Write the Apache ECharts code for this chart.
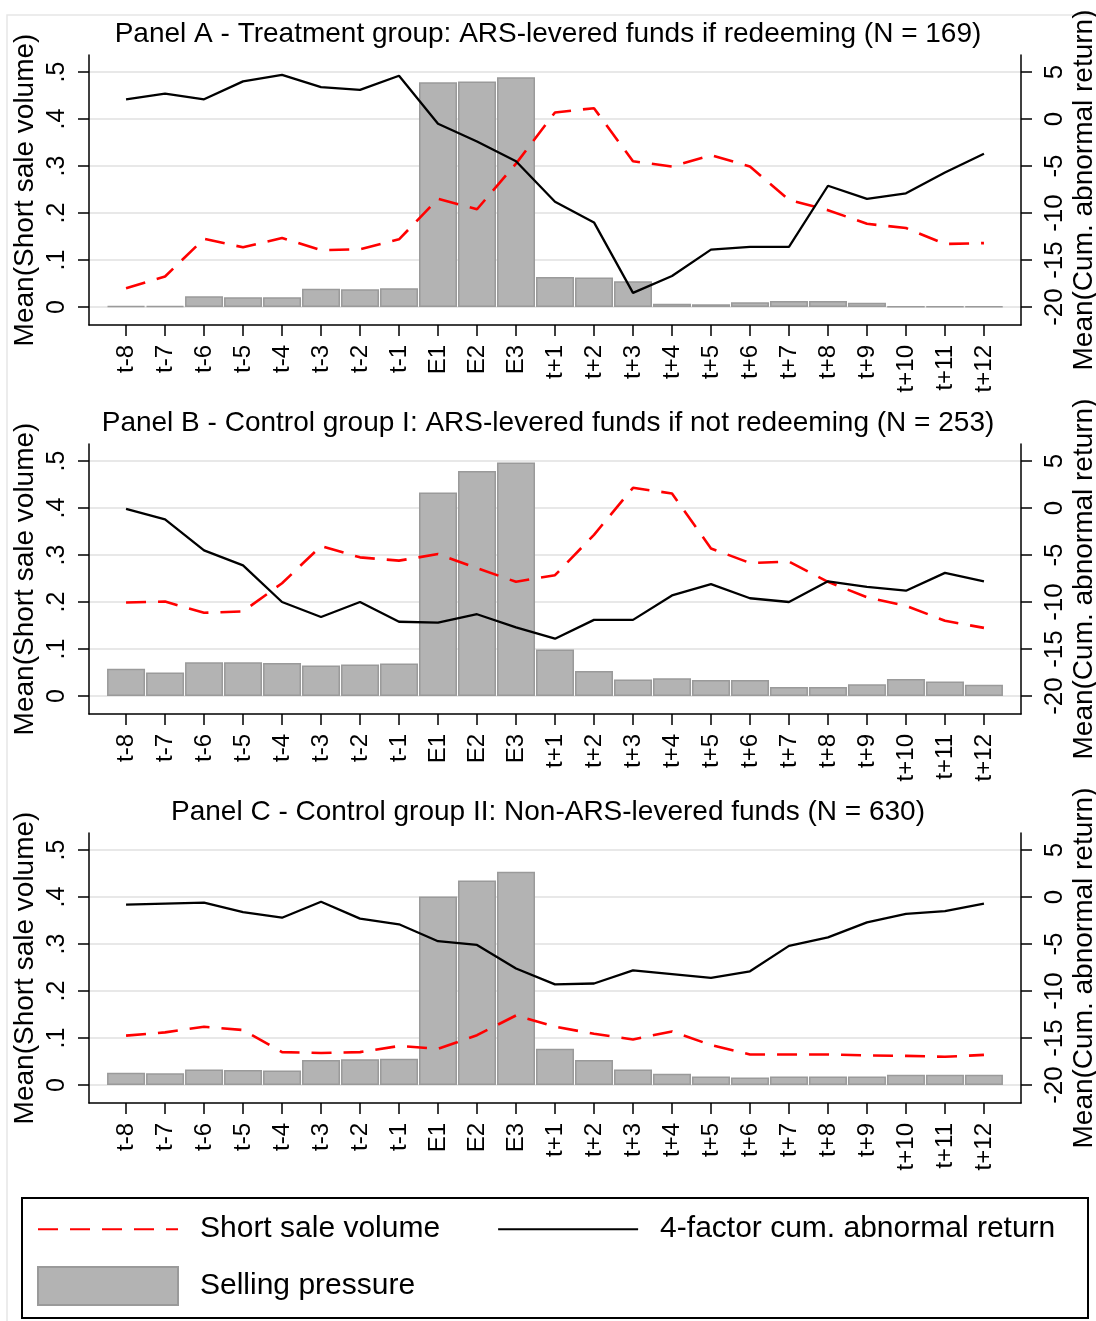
<!DOCTYPE html>
<html><head><meta charset="utf-8">
<script src="https://cdn.jsdelivr.net/npm/echarts@6/dist/echarts.min.js"></script>
<style>html,body{margin:0;padding:0;background:#fff}#c{width:1096px;height:1321px}</style>
</head><body><div id="c"></div>
<script>
const categories = ['t-8','t-7','t-6','t-5','t-4','t-3','t-2','t-1','E1','E2','E3','t+1','t+2','t+3','t+4','t+5','t+6','t+7','t+8','t+9','t+10','t+11','t+12'];
const leftTicks = [0, 0.1, 0.2, 0.3, 0.4, 0.5];
const rightTicks = [-20, -15, -10, -5, 0, 5];
const panelTitles = [
  'Panel A - Treatment group: ARS-levered funds if redeeming (N = 169)',
  'Panel B - Control group I: ARS-levered funds if not redeeming (N = 253)',
  'Panel C - Control group II: Non-ARS-levered funds (N = 630)'
];
const seriesNames = ['Short sale volume', '4-factor cum. abnormal return', 'Selling pressure'];

const sellA  = [0.002,0.002,0.023,0.021,0.021,0.039,0.038,0.040,0.478,0.480,0.489,0.064,0.063,0.055,0.007,0.006,0.010,0.013,0.013,0.009,0.001,0.001,0.001];
const shortA = [0.040,0.065,0.145,0.127,0.147,0.121,0.123,0.144,0.230,0.208,0.305,0.414,0.423,0.310,0.299,0.323,0.299,0.228,0.206,0.177,0.168,0.134,0.136];
const carA   = [2.1,2.7,2.1,4.0,4.7,3.4,3.1,4.6,-0.5,-2.4,-4.5,-8.8,-11.0,-18.5,-16.7,-13.9,-13.6,-13.6,-7.1,-8.5,-7.9,-5.7,-3.7];

const sellB  = [0.058,0.050,0.072,0.072,0.070,0.065,0.067,0.069,0.433,0.479,0.497,0.099,0.053,0.035,0.038,0.034,0.034,0.019,0.019,0.025,0.036,0.031,0.024];
const shortB = [0.199,0.201,0.177,0.180,0.240,0.319,0.295,0.288,0.302,0.272,0.243,0.257,0.343,0.443,0.431,0.314,0.283,0.286,0.243,0.210,0.192,0.160,0.145];
const carB   = [-0.1,-1.2,-4.5,-6.1,-10.0,-11.6,-10.0,-12.1,-12.2,-11.3,-12.7,-13.9,-11.9,-11.9,-9.3,-8.1,-9.6,-10.0,-7.8,-8.4,-8.8,-6.9,-7.8];

const sellC  = [0.026,0.025,0.033,0.032,0.031,0.053,0.055,0.056,0.401,0.435,0.454,0.077,0.053,0.033,0.024,0.018,0.016,0.018,0.018,0.018,0.022,0.022,0.022];
const shortC = [0.105,0.112,0.124,0.117,0.070,0.068,0.070,0.083,0.077,0.106,0.148,0.124,0.109,0.097,0.114,0.085,0.065,0.065,0.065,0.063,0.062,0.060,0.064];
const carC   = [-0.8,-0.7,-0.6,-1.6,-2.2,-0.5,-2.3,-2.9,-4.7,-5.1,-7.6,-9.3,-9.2,-7.8,-8.2,-8.6,-7.9,-5.2,-4.3,-2.7,-1.8,-1.5,-0.7];

const panels = [
  {sell: sellA, short: shortA, car: carA},
  {sell: sellB, short: shortB, car: carB},
  {sell: sellC, short: shortC, car: carC}
];

const FONT = '"Liberation Sans", Arial, Helvetica, sans-serif';
const gridTops = [55, 444, 833];
const GRID_H = 270;
const idx = categories.map((c, i) => i);
const LMIN = -0.0383, LMAX = 0.5362;
const RMIN = -20 + LMIN * 50, RMAX = -20 + LMAX * 50;

const grids = [], xAxes = [], yAxes = [], series = [], titles = [];
panels.forEach((p, k) => {
  grids.push({left: 89, right: 75, top: gridTops[k], height: GRID_H, containLabel: false, outerBoundsMode: 'none'});
  titles.push({
    text: panelTitles[k], left: 'center', top: gridTops[k] - 35, padding: [0, 0, 0, 6],
    textStyle: {fontSize: 28, fontWeight: 'normal', fontFamily: FONT, color: '#000'}
  });
  xAxes.push({
    type: 'value', gridIndex: k, min: -0.95, max: 22.95,
    axisLine: {show: true, onZero: false, lineStyle: {color: '#000', width: 1.5}},
    axisTick: {show: true, inside: false, length: 11, customValues: idx, lineStyle: {color: '#000', width: 1.5}},
    axisLabel: {show: true, customValues: idx, rotate: 90, margin: 20, fontSize: 24, fontFamily: FONT, color: '#000',
      formatter: v => categories[Math.round(v)]},
    splitLine: {show: false}
  });
  yAxes.push({
    type: 'value', gridIndex: k, position: 'left', min: LMIN, max: LMAX,
    name: 'Mean(Short sale volume)', nameLocation: 'middle', nameRotate: 90, nameGap: 50, nameMoveOverlap: false,
    nameTextStyle: {fontSize: 28, fontFamily: FONT, color: '#000'},
    axisLine: {show: true, onZero: false, lineStyle: {color: '#000', width: 1.5}},
    axisTick: {show: true, inside: false, length: 11, customValues: leftTicks, lineStyle: {color: '#000', width: 1.5}},
    axisLabel: {show: true, customValues: leftTicks, rotate: 90, margin: 19, fontSize: 25, fontFamily: FONT, color: '#000',
      formatter: v => v === 0 ? '0' : String(+v.toFixed(2)).replace(/^0\./, '.')},
    splitLine: {show: true, lineStyle: {color: '#e8e8e8', width: 2}}
  });
  yAxes.push({
    type: 'value', gridIndex: k, position: 'right', min: RMIN, max: RMAX,
    name: 'Mean(Cum. abnormal return)', nameLocation: 'middle', nameRotate: 90, nameGap: 49, nameMoveOverlap: false,
    nameTextStyle: {fontSize: 28, fontFamily: FONT, color: '#000'},
    axisLine: {show: true, onZero: false, lineStyle: {color: '#000', width: 1.5}},
    axisTick: {show: true, inside: false, length: 11, customValues: rightTicks, lineStyle: {color: '#000', width: 1.5}},
    axisLabel: {show: true, customValues: rightTicks, rotate: 90, margin: 21, fontSize: 26, fontFamily: FONT, color: '#000',
      formatter: v => String(Math.round(v))},
    splitLine: {show: false}
  });
  series.push({
    name: seriesNames[2], type: 'bar', xAxisIndex: k, yAxisIndex: 2 * k, barWidth: 38,
    itemStyle: {color: '#b3b3b3', borderColor: '#9a9a9a', borderWidth: 1.5},
    data: p.sell.map((v, i) => [i, v]), z: 2
  });
  series.push({
    name: seriesNames[0], type: 'line', xAxisIndex: k, yAxisIndex: 2 * k, symbol: 'none', showSymbol: false,
    lineStyle: {color: '#ff0000', width: 2.6, type: [20, 12]}, itemStyle: {color: '#ff0000'},
    data: p.short.map((v, i) => [i, v]), z: 3
  });
  series.push({
    name: seriesNames[1], type: 'line', xAxisIndex: k, yAxisIndex: 2 * k + 1, symbol: 'none', showSymbol: false,
    lineStyle: {color: '#000', width: 2.3}, itemStyle: {color: '#000'},
    data: p.car.map((v, i) => [i, v]), z: 4
  });
});

const legendText = {fontSize: 30, fontFamily: FONT, color: '#000', padding: [0, 0, 0, 17]};
const option = {
  animation: false,
  backgroundColor: '#fff',
  title: titles,
  grid: grids,
  xAxis: xAxes,
  yAxis: yAxes,
  series: series,
  legend: [
    {data: [{name: seriesNames[0], itemStyle: {opacity: 0}}, {name: seriesNames[1], itemStyle: {opacity: 0}}],
     left: 37, top: 1214, orient: 'horizontal', padding: 0,
     itemWidth: 140, itemHeight: 38, itemGap: 57, selectedMode: false, textStyle: legendText},
    {data: [{name: seriesNames[2], icon: 'rect'}], left: 37, top: 1266, orient: 'horizontal', padding: 0,
     itemWidth: 140, itemHeight: 38, selectedMode: false, textStyle: legendText}
  ],
  graphic: [
    {type: 'rect', shape: {x: 7, y: 15, width: 1100, height: 1320}, style: {fill: 'none', stroke: '#e6e6e6', lineWidth: 1.5}, silent: true, z: -10},
    {type: 'rect', shape: {x: 22, y: 1198, width: 1066, height: 120}, style: {fill: 'none', stroke: '#000', lineWidth: 2}, silent: true}
  ]
};
const chart = echarts.init(document.getElementById('c'));
chart.setOption(option);
</script>
</body></html>
